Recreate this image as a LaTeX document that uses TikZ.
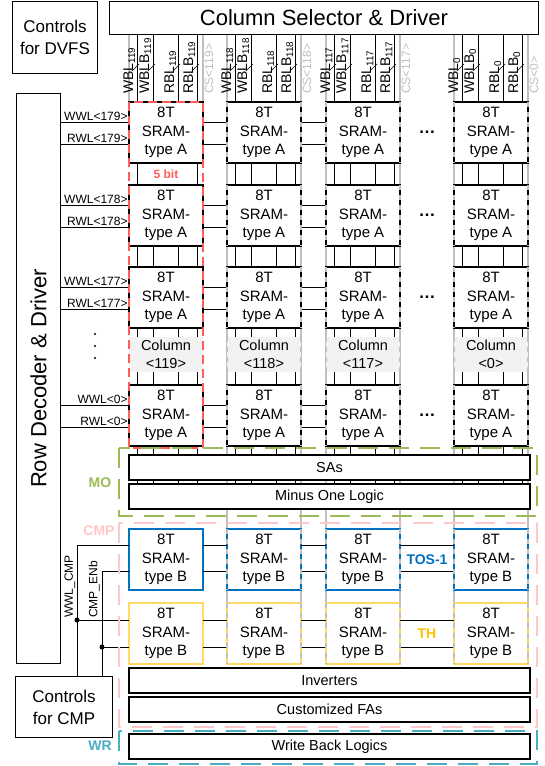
\documentclass[tikz,border=0pt]{standalone}
\usepackage{fontspec}
\setmainfont{Liberation Sans}
\usetikzlibrary{positioning,calc,backgrounds}

\definecolor{mogreen}{RGB}{155,187,89}
\definecolor{cmppink}{RGB}{255,199,199}
\definecolor{wrteal}{RGB}{75,172,198}
\definecolor{tosblue}{RGB}{0,112,192}
\definecolor{thyellow}{RGB}{255,217,102}
\definecolor{thgold}{RGB}{255,192,0}
\definecolor{bitred}{RGB}{255,92,92}
\definecolor{csgray}{RGB}{191,191,191}
\definecolor{colfill}{RGB}{242,242,242}

\tikzset{
  drvbox/.style={rectangle,draw,line width=1pt,fill=white,anchor=north west,inner sep=0pt,align=center,font=\fontsize{22}{26}\selectfont},
  ctrlbox/.style={drvbox,font=\fontsize{17}{22}\selectfont},
  cellA/.style={rectangle,draw,line width=1.4pt,fill=white,anchor=north west,outer sep=0pt,inner sep=0pt,minimum width=74pt,minimum height=61pt,align=center,font=\fontsize{15}{18.5}\selectfont},
  cellB/.style={cellA,line width=2.4pt},
  colname/.style={rectangle,fill=colfill,anchor=north west,outer sep=0pt,inner sep=0pt,minimum width=74pt,minimum height=35pt,align=center,font=\fontsize{14.5}{18}\selectfont},
  logicbar/.style={rectangle,draw,line width=1.2pt,fill=white,anchor=north west,outer sep=0pt,inner sep=0pt,minimum width=401pt,minimum height=25pt,font=\fontsize{14.5}{17}\selectfont},
  wire/.style={line width=0.8pt},
  bitline/.style={line width=0.8pt},
  csline/.style={csgray,line width=1.3pt},
  edgedash/.style={csgray,line width=1.5pt,dash pattern=on 5pt off 5pt},
  wllabel/.style={anchor=south east,inner sep=1pt,font=\fontsize{12}{14}\selectfont},
  bllabel/.style={rotate=90,anchor=south west,inner sep=0pt,font=\fontsize{14}{16}\selectfont},
  cslabel/.style={bllabel,anchor=north west,text=csgray,font=\fontsize{12}{14}\selectfont},
  sigtag/.style={bllabel,font=\fontsize{12}{14}\selectfont},
  groupbox/.style={line width=2.8pt,dash pattern=on 20pt off 11pt},
  grouptag/.style={inner sep=0pt,font=\bfseries\fontsize{14}{16}\selectfont},
  jdot/.style={circle,fill,inner sep=0pt,minimum size=5pt},
  hdots/.style={font=\bfseries\fontsize{17}{17}\selectfont},
}

\begin{document}
\begin{tikzpicture}[x=1pt,y=-1pt]
  \useasboundingbox (0,0) rectangle (545,766);

  % Drivers and controls
  \node[ctrlbox,minimum width=85pt,minimum height=72pt] (dvfs) at (12,0.5) {Controls\\for DVFS};
  \node[drvbox,minimum width=429pt,minimum height=33.5pt] (colsel) at (109,0.5) {Column Selector \& Driver};
  \node[drvbox,minimum width=44pt,minimum height=570pt] (rowdec) at (16,93) {\rotatebox{90}{Row Decoder \& Driver}};
  \node[ctrlbox,minimum width=97pt,minimum height=61pt] (ctrlcmp) at (15,676) {Controls\\for CMP};

  % SRAM arrays
  \foreach \col/\lx in {119/129,118/227,117/326,0/454} {
    \foreach \row/\ty in {179/102,178/185,177/267,0/385}
      \node[cellA] (A\row-\col) at (\lx,\ty) {8T\\SRAM-\\type A};
    \node[colname] (C\col) at (\lx,337) {Column\\<\col>};
    \node[cellB,draw=tosblue] (tos\col) at (\lx,529) {8T\\SRAM-\\type B};
    \node[cellB,draw=thyellow] (th\col) at (\lx,603) {8T\\SRAM-\\type B};
  }

  % Peripheral logic
  \node[logicbar] (sas) at (129,455) {SAs};
  \node[logicbar] (mol) at (129,484) {Minus One Logic};
  \node[logicbar] (inv) at (129,668) {Inverters};
  \node[logicbar] (fas) at (129,697) {Customized FAs};
  \node[logicbar] (wbl) at (129,734) {Write Back Logics};

  % Bit lines and column selects
  \begin{scope}[on background layer]
    \foreach \col/\lx in {119/129,118/227,117/326,0/454}
      \foreach \dx in {8,24,49,68}
        \draw[bitline] (\lx+\dx,0 |- colsel.south) -- (\lx+\dx,0 |- mol.north);
    \foreach \col/\lx in {118/227,117/326,0/454}
      \foreach \dx in {0,74}
        \draw[csline] (\lx+\dx,0 |- colsel.south) -- (\lx+\dx,0 |- th\col.south);
    \foreach \dx in {0,74}
      \draw[csline] (129+\dx,0 |- colsel.south) -- (129+\dx,0 |- A179-119.north);
  \end{scope}

  % Word lines
  \foreach \row in {179,178,177,0} {
    \coordinate (ww\row) at ($(A\row-119.north west)+(0,20)$);
    \coordinate (rw\row) at ($(A\row-119.north west)+(0,42)$);
    \draw[wire] (rowdec.east |- ww\row) -- (ww\row) node[wllabel] {WWL<\row>};
    \draw[wire] (rowdec.east |- rw\row) -- (rw\row) node[wllabel] {RWL<\row>};
    \foreach \ca/\cb in {119/118,118/117} {
      \draw[wire] (A\row-\ca.east |- ww\row) -- (A\row-\cb.west |- ww\row);
      \draw[wire] (A\row-\ca.east |- rw\row) -- (A\row-\cb.west |- rw\row);
    }
    \node[hdots] at ($(A\row-117.east)!0.5!(A\row-0.west)$) {…};
  }
  % vertical ellipsis between word lines
  \foreach \dy in {-12,0,12}
    \fill (95,346+\dy) circle (1.2pt);

  % Compare rows
  \coordinate (tw) at ($(tos119.north west)+(0,16)$);
  \coordinate (te) at ($(tos119.north west)+(0,42)$);
  \coordinate (hw) at ($(th119.north west)+(0,17)$);
  \coordinate (he) at ($(th119.north west)+(0,44)$);
  \foreach \ca/\cb in {119/118,118/117,117/0} {
    \draw[wire] (tos\ca.east |- tw) -- (tos\cb.west |- tw);
    \draw[wire] (tos\ca.east |- te) -- (tos\cb.west |- te);
    \draw[wire] (th\ca.east |- hw) -- (th\cb.west |- hw);
    \draw[wire] (th\ca.east |- he) -- (th\cb.west |- he);
  }
  \node[grouptag,text=tosblue] (tos) at ($(tos117.east)!0.5!(tos0.west)$) {TOS-1};
  \node[grouptag,text=thgold] (th) at ($(th117.east)!0.5!(th0.west)$) {TH};

  % CMP control signals
  \coordinate (wwlcmp) at (77,0);
  \coordinate (cmpenb) at (102,0);
  \draw[wire] (wwlcmp |- ctrlcmp.north) -- (wwlcmp |- tw) -- (tw);
  \draw[wire] (wwlcmp |- hw) -- (hw);
  \draw[wire] (cmpenb |- ctrlcmp.north) -- (cmpenb |- te) -- (te);
  \draw[wire] (cmpenb |- he) -- (he);
  \node[jdot] at (wwlcmp |- hw) {};
  \node[jdot] at (cmpenb |- he) {};
  \node[sigtag] at ($(wwlcmp |- hw)+(-1.5,-2)$) {WWL\_CMP};
  \node[sigtag] at ($(cmpenb |- hw)+(-2,-2)$) {CMP\_ENb};

  % Header labels
  \foreach \col/\lx in {119/129,118/227,117/326,0/454} {
    \foreach \bl/\dx in {WBL/8,WBLB/24,RBL/49,RBLB/68} {
      \node[bllabel] at (\lx+\dx-1.5,94) {\bl\textsubscript{\col}};
      \draw[thin] (\lx+\dx-5,71) -- (\lx+\dx+2,64);
    }
    \node[cslabel] at (\lx+75.5,94) {CS<\col>};
  }

  % Cell edges along column selects
  \foreach \col in {118,117,0}
    \foreach \cn in {A179-\col,A178-\col,A177-\col,A0-\col,C\col,tos\col,th\col}
      \draw[edgedash] (\cn.north west) -- (\cn.south west) (\cn.north east) -- (\cn.south east);

  % 5-bit column
  \draw[bitred,line width=1.6pt,dash pattern=on 9pt off 5pt] (A179-119.north west) rectangle ($(A0-119.south east)+(0,2)$);
  \node[grouptag,text=bitred,fill=white,minimum width=30pt,minimum height=20pt,font=\bfseries\fontsize{12}{14}\selectfont] (fivebit) at ($(A179-119.south)!0.5!(A178-119.north)$) {5 bit};

  % Groups
  \draw[groupbox,mogreen] ($(sas.north west)+(-10,-7)$) rectangle ($(mol.south east)+(7,7)$);
  \draw[groupbox,cmppink] ($(tos119.north west)+(-10,-6)$) rectangle ($(fas.south east)+(7,5)$);
  \draw[groupbox,wrteal] ($(wbl.north west)+(-10,-3)$) rectangle ($(wbl.south east)+(7,5)$);
  \node[grouptag,text=mogreen] (mo) at (100,483) {MO};
  \node[grouptag,text=cmppink] (cmp) at (99,531) {CMP};
  \node[grouptag,text=wrteal] (wr) at (100,746) {WR};
\end{tikzpicture}
\end{document}
